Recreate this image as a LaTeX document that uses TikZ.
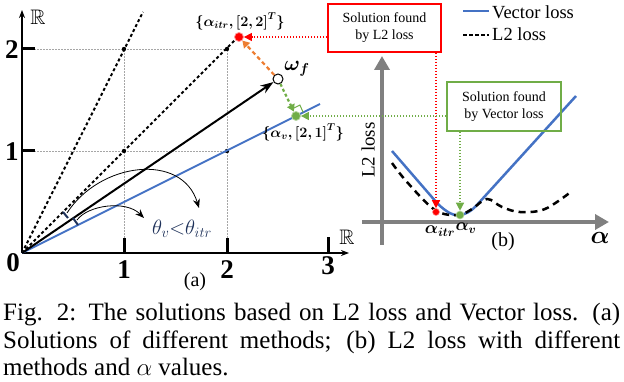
\documentclass[tikz,border=0pt]{standalone}
\usepackage{amsmath,amssymb,bm}
\usepackage{fontspec}
\setmainfont{Liberation Serif}
\usetikzlibrary{arrows.meta}
\definecolor{vblue}{RGB}{68,114,196}
\definecolor{vgreen}{RGB}{112,173,71}
\definecolor{vorange}{RGB}{237,125,49}
\definecolor{vnavy}{RGB}{31,50,90}
\definecolor{vgray}{RGB}{128,128,128}
\newcommand\fsz[2]{\fontsize{#1}{#2}\selectfont}
\tikzset{
  gridl/.style={gray!70, line width=0.8pt, dash pattern=on 1.5pt off 1.5pt},
  axa/.style={black, line width=1.5pt, -{Stealth[length=8pt,width=6pt]}},
  dotl/.style={black, line width=2pt, dash pattern=on 3pt off 2.5pt},
  tickbar/.style={black, line width=3pt},
  numl/.style={font=\fsz{27}{30}\bfseries, inner sep=0pt},
  gax/.style={vgray, line width=4pt, -{Triangle[length=14pt,width=15pt]}},
  reddot/.style={red, line width=1.3pt, dash pattern=on 1.5pt off 1.5pt, -{Triangle[length=8pt,width=8pt]}},
  grndot/.style={vgreen, line width=1.3pt, dash pattern=on 1.5pt off 1.5pt, -{Triangle[length=8pt,width=8pt]}},
  boxt/.style={font=\fsz{14}{17}, align=center, inner sep=0pt},
  pt/.style={circle, inner sep=0pt, minimum size=#1},
  capline/.style={anchor=base west, inner sep=0pt, font=\fsz{25}{28}}
}
\begin{document}
\begin{tikzpicture}[x=1pt,y=-1pt]
\useasboundingbox (0,0) rectangle (624,382);
% ---------- panel (a) ----------
\coordinate (O) at (22,253);
\coordinate (g11) at (124,151);
\coordinate (g12) at (124,49);
\coordinate (g21) at (227,151);
\coordinate (g22) at (227,49);
\draw[gridl] (22,49) -- (g22);
\draw[gridl] (22,151) -- (g21);
\draw[gridl] (124,253) -- (g12);
\draw[gridl] (227,253) -- (g22);
\draw[axa] (O) -- (22,10);
\draw[axa] (O) -- (349,253);
\draw[tickbar] (22,49) -- (35,49);
\draw[tickbar] (22,151) -- (35,151);
\draw[tickbar] (124,253) -- (124,238);
\draw[tickbar] (227,253) -- (227,238);
\draw[tickbar] (328,253) -- (328,237);
\draw[dotl] (O) -- (143,12);
\draw[dotl] (O) -- (236,39);
\foreach \p in {g11,g12,g21,g22} \fill (\p) circle (2.2);
\draw[vblue, line width=2pt] (O) -- (320,104);
\node[pt=10pt, draw=black, line width=1pt, fill=white] (wf) at (278,79) {};
\draw[line width=2pt, -{Stealth[length=13pt,width=9pt]}] (O) -- (wf);
\node[pt=9pt, fill=red, draw=red!40, line width=0.8pt] (rd) at (239,37) {};
\node[pt=9pt, fill=vgreen, draw=vgreen!50, line width=0.8pt] (gd) at (296,116) {};
\draw[vorange, line width=2.2pt, dash pattern=on 4pt off 3pt, -{Triangle[length=7pt,width=8pt]}] (wf) -- (rd);
\draw[vgreen, line width=2.2pt, dash pattern=on 3pt off 2.5pt, -{Triangle[length=7pt,width=8pt]}] (wf) -- (gd);
\draw[vgreen, line width=1pt] (292.7,108.7) -- (299.9,105.1) -- (303.2,112.4);
% angle marks
\draw[vnavy, line width=2pt] (63,212) -- (68,218);
\draw[vnavy, line width=2pt] (73,218) -- (78,225);
\draw[black, line width=0.8pt, -{Stealth[length=9pt,width=7pt]}] (67,213) .. controls (100,162) and (182,152) .. (199,208);
\draw[black, line width=0.8pt, -{Stealth[length=9pt,width=7pt]}] (77,220) .. controls (88,205) and (126,200) .. (144,218);
% labels
\node[numl] (n0) at (13,263) {0};
\node[numl] (n1x) at (124,270) {1};
\node[numl] (n2x) at (227,270) {2};
\node[numl] (n3x) at (328,266) {3};
\node[numl] (n1y) at (12,152) {1};
\node[numl] (n2y) at (12,50) {2};
\node[font=\fsz{21}{23}, inner sep=0pt] (Ry) at (38,17) {$\mathbb{R}$};
\node[font=\fsz{21}{23}, inner sep=0pt] (Rx) at (347,237) {$\mathbb{R}$};
\node[font=\fsz{14.5}{16}, inner sep=0pt] (litr) at (240,21) {$\bm{\{\alpha_{itr},[2,2]^T\}}$};
\node[font=\fsz{14.5}{16}, inner sep=0pt] (lv) at (303,132) {$\bm{\{\alpha_{v},[2,1]^T\}}$};
\node[font=\fsz{22}{24}, inner sep=0pt] (lwf) at (297,69) {$\bm{\omega_f}$};
\node[font=\fsz{22}{25}, text=vnavy, inner sep=0pt] (lth) at (182,229) {$\theta_v{<}\theta_{itr}$};
\node[font=\fsz{20}{22}, inner sep=0pt] (la) at (195,282) {(a)};
% ---------- panel (b) ----------
\draw[gax] (382,245) -- (382,56);
\draw[gax] (362,222) -- (609,222);
\draw[vblue, line width=2.5pt] (392,151) -- (437,203) .. controls (448,214) and (455,216) .. (460,215) .. controls (466,214) and (470,212) .. (476,206) -- (576,96);
\draw[black, line width=2.5pt, dash pattern=on 7pt off 5pt] plot[smooth, tension=0.6] coordinates {(392,163) (407,182) (435,210) (458,215) (472,209) (487,199) (502,207) (520,212) (545,209) (572,191)};
\node[pt=7pt, fill=red, draw=red!40, line width=0.6pt] (rdb) at (436,212) {};
\node[pt=8pt, fill=vgreen, draw=vgreen!50, line width=0.6pt] (gdb) at (460,215) {};
\node[font=\fsz{19}{21}, inner sep=0pt, rotate=90] (ylab) at (368,150) {L2 loss};
\node[font=\fsz{17}{19}, inner sep=0pt] (lai) at (440,231) {$\bm{\alpha_{itr}}$};
\node[font=\fsz{17}{19}, inner sep=0pt] (lav) at (466,228) {$\bm{\alpha_{v}}$};
\node[font=\fsz{26}{28}, inner sep=0pt] (lal) at (600,238) {$\bm{\alpha}$};
\node[font=\fsz{20}{22}, inner sep=0pt] (lb) at (503,242) {(b)};
% boxes
\node[draw=red, line width=2pt, minimum width=113pt, minimum height=48pt, boxt] (rb) at (384.5,28) {Solution found\\by L2 loss};
\node[draw=vgreen, line width=1.8pt, minimum width=114pt, minimum height=49pt, boxt] (gb) at (504,106.5) {Solution found\\by Vector loss};
\draw[reddot] (rb.west |- rd) -- (rd);
\draw[reddot] (rb.south -| rdb) -- (rdb);
\draw[grndot] (gb.west |- gd) -- (gd);
\draw[grndot] (gb.south -| gdb) -- (gdb);
% legend
\draw[vblue, line width=2.5pt] (463,11) -- (489,11);
\node[anchor=west, font=\fsz{18.5}{20}, inner sep=0pt] (lg1) at (492,12) {Vector loss};
\draw[black, line width=2.5pt, dash pattern=on 4pt off 2pt] (463,35) -- (489,35);
\node[anchor=west, font=\fsz{18.5}{20}, inner sep=0pt] (lg2) at (492,34) {L2 loss};
% ---------- caption ----------
\node[capline] (c1) at (3,320) {\makebox[617pt][s]{Fig. 2: The solutions based on L2 loss and Vector loss. (a)}};
\node[capline] (c2) at (3,348) {\makebox[617pt][s]{Solutions of different methods; (b) L2 loss with different}};
\node[capline] (c3) at (3,375) {methods and $\alpha$ values.};
\end{tikzpicture}
\end{document}
